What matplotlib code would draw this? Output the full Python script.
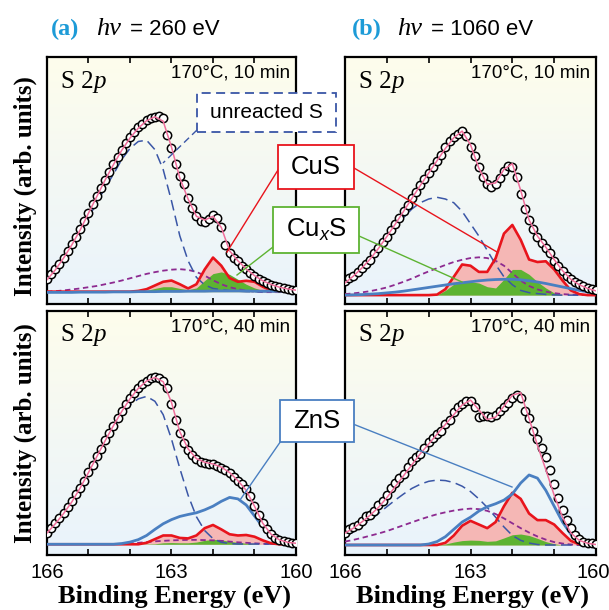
import numpy as np
import matplotlib
matplotlib.use('Agg')
import matplotlib.pyplot as plt
import matplotlib.transforms as mtransforms
from matplotlib.patches import Rectangle
from matplotlib.lines import Line2D

plt.rcParams['font.family'] = ['Liberation Sans', 'DejaVu Sans']
plt.rcParams['mathtext.fontset'] = 'custom'
plt.rcParams['mathtext.rm'] = 'Liberation Sans'
plt.rcParams['mathtext.it'] = 'Liberation Sans:italic'

W, H = 609, 610

# binding energy grids (eV): measured points every 0.1 eV, fit curves every 0.2 eV
energy_pts = np.linspace(166.0, 160.0, 61)
energy_fit = np.linspace(166.0, 160.0, 31)

# intensities in % of the panel height (arb. units)
# (a) 260 eV, 10 min
a10_data = [10.1, 12.0, 14.1, 16.3, 18.8, 21.4, 24.2, 27.1, 30.2, 33.5,
            37.0, 40.3, 43.7, 47.0, 50.4, 53.5, 56.5, 59.6, 62.5, 65.2,
            67.6, 69.8, 71.6, 73.0, 74.3, 75.3, 75.9, 76.0, 75.3, 68.5,
            63.0, 56.5, 52.0, 48.5, 43.0, 39.0, 35.5, 33.8, 33.4, 34.3,
            36.0, 35.0, 31.0, 24.0, 20.8, 18.8, 17.6, 15.3, 14.0, 12.4,
            11.2, 10.0, 9.3, 8.5, 7.8, 7.3, 6.8, 6.4, 6.1, 5.8, 5.5]
a10_fit = [9.8, 13.8, 18.6, 24.0, 30.0, 36.8, 43.5, 50.2, 56.4, 62.2,
           67.2, 71.2, 74.2, 75.8, 74.0, 63.5, 51.0, 42.5, 35.5, 34.0,
           35.5, 31.0, 21.5, 17.5, 14.2, 11.5, 9.4, 7.9, 6.8, 6.1, 5.6]
a10_unreacted = [9.8, 13.6, 18.2, 23.3, 29.0, 35.0, 41.0, 47.0, 52.5, 58.5,
                 63.0, 65.8, 66.3, 62.5, 54.4, 41.7, 27.6, 17.5, 10.8, 7.7,
                 6.3, 5.8, 5.4, 5.2, 5.0, 5.0, 5.0, 5.0, 5.0, 5.0, 5.0]
a10_other = [5.0, 5.2, 5.5, 5.9, 6.3, 6.8, 7.3, 8.0, 8.7, 9.5,
             10.4, 11.3, 12.2, 12.9, 13.5, 13.9, 14.1, 13.8, 13.0, 11.5,
             9.6, 8.0, 6.8, 6.0, 5.4, 5.0, 4.8, 4.8, 4.8, 4.8, 4.8]
a10_cus = [5.0, 5.0, 5.0, 5.0, 5.0, 5.0, 5.0, 5.0, 5.0, 5.0,
           5.0, 5.3, 6.0, 7.5, 9.0, 9.5, 8.0, 6.3, 8.0, 14.0,
           18.8, 15.5, 10.5, 9.0, 9.4, 9.0, 7.0, 5.5, 5.0, 5.0, 5.0]
a10_cuxs = [5.0, 5.0, 5.0, 5.0, 5.0, 5.0, 5.0, 5.0, 5.0, 5.0,
            5.0, 5.0, 5.5, 6.3, 7.0, 7.0, 6.3, 5.8, 6.5, 9.5,
            12.3, 13.0, 12.0, 10.0, 8.0, 6.5, 5.5, 5.0, 5.0, 5.0, 5.0]
a10_zns = [4.7, 4.7, 4.7, 4.7, 4.8, 4.8, 4.8, 4.8, 4.9, 4.9,
           4.9, 5.0, 5.0, 5.0, 5.1, 5.1, 5.1, 5.2, 5.2, 5.2,
           5.3, 5.3, 5.3, 5.3, 5.3, 5.2, 5.2, 5.2, 5.1, 5.1, 5.0]

# (b) 1060 eV, 10 min
b10_data = [9.5, 10.5, 11.5, 13.0, 14.5, 16.0, 18.0, 20.5, 22.5, 25.0,
            27.3, 29.8, 32.3, 35.0, 37.5, 40.0, 42.8, 45.5, 48.0, 50.5,
            53.0, 55.5, 58.0, 60.5, 63.7, 66.0, 67.5, 69.0, 70.2, 68.0,
            63.7, 59.8, 55.5, 51.5, 48.5, 47.5, 48.5, 51.0, 54.0, 56.0,
            55.5, 51.6, 44.5, 38.5, 34.0, 30.5, 27.0, 24.5, 22.5, 20.5,
            17.5, 15.5, 13.5, 11.5, 10.0, 9.0, 8.0, 7.2, 6.5, 6.0, 5.5]
b10_fit = [8.5, 11.3, 14.5, 18.2, 22.5, 27.3, 32.3, 37.5, 42.8, 48.0,
           53.0, 58.0, 63.0, 67.3, 70.0, 64.5, 55.0, 48.5, 49.0, 54.5,
           56.8, 46.0, 34.0, 27.5, 23.0, 18.0, 13.5, 10.0, 7.8, 6.3, 5.3]
b10_unreacted = [8.4, 11.5, 15.2, 19.0, 23.5, 27.5, 31.5, 35.0, 38.5, 41.0,
                 42.5, 43.2, 42.5, 41.0, 37.5, 32.5, 27.5, 21.7, 16.0, 11.0,
                 7.8, 5.5, 4.6, 4.2, 3.9, 3.7, 3.6, 3.6, 3.6, 3.6, 3.6]
b10_other = [4.0, 4.3, 4.7, 5.2, 5.9, 6.7, 7.8, 9.0, 10.3, 11.8,
             13.2, 14.5, 15.8, 17.0, 17.9, 18.6, 18.9, 18.6, 17.5, 15.5,
             12.5, 9.5, 7.3, 5.9, 5.0, 4.4, 4.0, 3.8, 3.7, 3.6, 3.6]
b10_cus = [3.6, 3.6, 3.6, 3.6, 3.6, 3.6, 3.6, 3.6, 3.6, 3.6,
           3.6, 3.8, 6.0, 11.0, 16.0, 15.5, 13.0, 13.0, 18.5, 28.5,
           32.0, 26.0, 18.0, 17.0, 17.3, 14.0, 9.5, 5.5, 4.0, 3.6, 3.6]
b10_cuxs = [3.6, 3.6, 3.6, 3.6, 3.6, 3.6, 3.6, 3.6, 3.6, 3.6,
            3.6, 3.6, 5.5, 8.0, 9.0, 9.0, 8.5, 7.0, 6.5, 10.0,
            14.0, 14.0, 12.0, 9.0, 6.5, 4.5, 3.6, 3.6, 3.6, 3.6, 3.6]
b10_zns = [3.6, 3.7, 3.8, 4.0, 4.2, 4.5, 4.8, 5.2, 5.7, 6.2,
           6.7, 7.2, 7.7, 8.2, 8.6, 9.0, 9.4, 9.7, 9.9, 10.0,
           10.0, 9.8, 9.4, 8.9, 8.3, 7.6, 6.9, 6.2, 5.5, 4.9, 4.4]

# (a) 260 eV, 40 min
a40_data = [9.2, 11.0, 13.0, 15.0, 17.2, 19.5, 22.0, 24.8, 27.5, 30.5,
            34.0, 37.0, 40.5, 43.5, 47.0, 50.0, 53.0, 56.0, 59.0, 61.8,
            64.3, 66.5, 68.5, 70.2, 71.5, 72.5, 73.1, 72.6, 71.5, 68.3,
            62.0, 55.5, 50.0, 46.0, 43.0, 40.8, 39.3, 38.3, 37.8, 37.5,
            37.2, 36.5, 35.8, 35.0, 33.8, 32.0, 30.5, 29.0, 27.0, 24.0,
            20.0, 16.5, 13.0, 10.5, 8.5, 7.0, 6.2, 5.7, 5.3, 5.0, 4.9]
a40_fit = [9.0, 12.8, 17.0, 21.8, 27.5, 33.8, 40.3, 46.8, 53.0, 58.8,
           64.0, 68.3, 71.3, 72.8, 71.0, 62.5, 50.5, 43.5, 39.5, 38.0,
           37.3, 36.0, 33.8, 30.5, 26.5, 20.0, 13.0, 8.5, 6.2, 5.2, 4.8]
a40_unreacted = [9.0, 12.8, 17.0, 21.8, 27.3, 33.5, 40.0, 46.5, 52.5, 57.5,
                 61.5, 64.0, 65.0, 63.0, 57.5, 47.5, 35.5, 24.5, 15.7, 10.0,
                 6.7, 5.2, 4.7, 4.5, 4.5, 4.5, 4.5, 4.5, 4.5, 4.5, 4.5]
a40_other = [4.5, 4.5, 4.5, 4.5, 4.5, 4.5, 4.5, 4.5, 4.5, 4.5,
             4.8, 5.0, 5.3, 5.6, 5.8, 6.0, 6.1, 6.2, 6.2, 6.1,
             6.0, 5.8, 5.5, 5.2, 5.0, 4.8, 4.6, 4.5, 4.5, 4.5, 4.5]
a40_cus = [4.4, 4.4, 4.4, 4.4, 4.4, 4.4, 4.4, 4.4, 4.4, 4.4,
           4.4, 4.4, 5.0, 6.5, 8.0, 8.0, 7.0, 6.8, 8.0, 11.0,
           12.3, 10.5, 8.5, 8.0, 8.2, 7.5, 6.0, 4.8, 4.4, 4.4, 4.4]
a40_cuxs = [4.4, 4.4, 4.4, 4.4, 4.4, 4.4, 4.4, 4.4, 4.4, 4.4,
            4.4, 4.4, 4.5, 4.6, 5.0, 5.1, 5.0, 5.0, 5.3, 6.0,
            6.4, 6.2, 5.6, 5.2, 4.8, 4.5, 4.4, 4.4, 4.4, 4.4, 4.4]
a40_zns = [4.4, 4.4, 4.4, 4.4, 4.4, 4.4, 4.4, 4.4, 4.4, 4.7,
           5.3, 6.3, 8.0, 10.5, 12.8, 14.5, 15.8, 16.6, 17.3, 18.5,
           20.0, 22.0, 23.6, 23.0, 20.5, 16.0, 11.5, 7.5, 5.5, 4.6, 4.4]

# (b) 1060 eV, 40 min
b40_data = [9.0, 10.5, 11.5, 12.5, 14.0, 15.8, 16.5, 18.0, 20.5, 22.3,
            24.5, 27.5, 29.5, 31.5, 33.0, 36.0, 38.5, 40.0, 41.5, 44.0,
            46.5, 48.0, 49.5, 51.0, 53.5, 55.5, 58.5, 60.5, 62.0, 63.0,
            63.2, 60.5, 56.5, 56.8, 57.0, 56.5, 57.5, 59.0, 60.5, 62.5,
            64.5, 65.5, 64.5, 59.0, 56.0, 51.0, 47.5, 44.0, 40.0, 35.0,
            29.0, 23.5, 18.5, 14.5, 11.0, 8.0, 6.5, 5.5, 5.0, 4.8, 4.5]
b40_fit = [9.0, 11.0, 13.5, 16.3, 19.5, 23.5, 28.0, 32.5, 37.0, 41.5,
           45.5, 49.5, 53.5, 57.5, 61.5, 63.5, 59.5, 55.5, 56.5, 61.0,
           65.5, 66.5, 56.0, 45.0, 35.0, 24.5, 15.5, 9.0, 6.0, 4.8, 4.3]
b40_unreacted = [7.5, 9.5, 11.8, 14.3, 17.0, 19.8, 22.5, 25.0, 27.3, 29.0,
                 30.2, 30.7, 30.5, 29.7, 28.2, 26.0, 23.0, 19.5, 15.5, 11.5,
                 8.0, 6.0, 4.9, 4.3, 4.1, 4.1, 4.1, 4.1, 4.1, 4.1, 4.1]
b40_other = [5.5, 6.2, 7.0, 7.9, 8.8, 9.8, 11.0, 12.2, 13.4, 14.6,
             15.7, 16.7, 17.5, 18.2, 18.7, 19.0, 18.8, 18.1, 16.8, 15.0,
             13.0, 11.0, 9.2, 7.6, 6.3, 5.3, 4.7, 4.3, 4.1, 4.1, 4.1]
b40_cus = [4.1, 4.1, 4.1, 4.1, 4.1, 4.1, 4.1, 4.1, 4.1, 4.1,
           4.1, 4.1, 5.0, 8.0, 12.0, 14.0, 12.5, 11.0, 13.5, 20.0,
           25.5, 23.0, 17.0, 14.3, 14.3, 12.5, 9.0, 5.8, 4.4, 4.1, 4.1]
b40_cuxs = [4.1, 4.1, 4.1, 4.1, 4.1, 4.1, 4.1, 4.1, 4.1, 4.1,
            4.1, 4.1, 4.5, 5.3, 5.9, 6.1, 6.0, 5.6, 5.8, 7.0,
            8.3, 8.6, 8.0, 6.8, 5.5, 4.6, 4.1, 4.1, 4.1, 4.1, 4.1]
b40_zns = [4.1, 4.1, 4.1, 4.1, 4.1, 4.1, 4.1, 4.1, 4.1, 4.1,
           4.5, 5.5, 7.5, 10.5, 13.5, 15.5, 18.0, 19.8, 21.0, 22.5,
           25.0, 29.5, 32.8, 31.5, 26.5, 20.0, 13.5, 8.5, 5.8, 4.6, 4.1]

panel_conditions = ['170\u00b0C, 10 min', '170\u00b0C, 10 min', '170\u00b0C, 40 min', '170\u00b0C, 40 min']
column_labels = ['(a)', '(b)']
photon_energies = ['= 260 eV', '= 1060 eV']
tick_labels = {166: '166', 163: '163', 160: '160'}

C_DATA = 'black'
C_FIT = '#ef6e9b'
C_UNREACTED = '#3a56a6'
C_OTHER = '#8d2a90'
C_CUS = '#e8141c'
C_CUS_FILL = '#f5b7b5'
C_CUXS = '#5db332'
C_ZNS = '#4a7fc1'
C_LABEL = '#1d9bd7'


def fig_xy(x, y):
    # pixel position (from the top left) to figure fraction
    return x / W, 1 - y / H


def gradient_bg(ax):
    top = np.array([254, 253, 236]) / 255.0
    bottom = np.array([233, 243, 252]) / 255.0
    t = np.linspace(0, 1, 256)[:, None, None]
    img = top * (1 - t) + bottom * t
    ax.imshow(img, extent=[0, 1, 0, 1], transform=ax.transAxes, aspect='auto', zorder=0)


def draw_panel(ax, data, fit, unreacted, other, cus, cuxs, zns, condition, show_labels):
    gradient_bg(ax)
    cus = np.array(cus)
    cuxs = np.array(cuxs)
    ax.fill_between(energy_fit, cus, cus.min(), color=C_CUS_FILL, lw=0, zorder=2)
    ax.fill_between(energy_fit, cuxs, cuxs.min(), color=C_CUXS, lw=0, zorder=3)
    ax.plot(energy_fit, other, color=C_OTHER, ls=(0, (3, 2)), lw=1.3, zorder=4)
    ax.plot(energy_fit, unreacted, color=C_UNREACTED, ls=(0, (7, 3.5)), lw=1.1, zorder=4)
    ax.plot(energy_fit, cus, color=C_CUS, lw=1.9, zorder=5)
    ax.plot(energy_fit, zns, color=C_ZNS, lw=2.0, zorder=6)
    ax.plot(energy_pts, data, 'o', ms=6.0, mfc='white', mec=C_DATA, mew=1.1, zorder=8)
    ax.plot(energy_fit, fit, color=C_FIT, lw=1.1, zorder=9)

    ax.set_xlim(166, 160)
    ax.set_ylim(0, 100)
    ax.set_xticks(np.arange(160, 167))
    ax.set_xticklabels([tick_labels.get(t, '') for t in range(160, 167)])
    ax.set_yticks([])
    ax.tick_params(axis='x', direction='in', top=True, length=4, width=1.2,
                   labelsize=14.5, pad=6, labelbottom=show_labels)
    for s in ax.spines.values():
        s.set_linewidth(1.6)

    t1 = ax.text(0.055, 0.855, 'S 2', family='Liberation Serif', fontsize=18,
                 transform=ax.transAxes, va='bottom', zorder=10)
    ax.annotate('p', xy=(1, 0), xycoords=t1, family='Liberation Serif', style='italic',
                fontsize=18, va='bottom', ha='left', zorder=10)
    ax.text(0.975, 0.968, condition, fontsize=13.5, transform=ax.transAxes,
            ha='right', va='top', zorder=10)


def add_box(fig, x0, y0, x1, y1, text, color, size, ls='-'):
    fx, fy = fig_xy(x0, y1)
    rect = Rectangle((fx, fy), (x1 - x0) / W, (y1 - y0) / H, transform=fig.transFigure,
                     fc='white', ec=color, lw=1.3, ls=ls, zorder=20)
    fig.add_artist(rect)
    cx, cy = fig_xy((x0 + x1) / 2, (y0 + y1) / 2)
    fig.text(cx, cy, text, ha='center', va='center', fontsize=size, zorder=21)


def add_leader(fig, p0, p1, color, ls='-'):
    x0, y0 = fig_xy(*p0)
    x1, y1 = fig_xy(*p1)
    fig.add_artist(Line2D([x0, x1], [y0, y1], transform=fig.transFigure,
                          color=color, lw=1.0, ls=ls, zorder=19))


if __name__ == '__main__':
    fig = plt.figure(figsize=(W / 100, H / 100), dpi=100)

    ax_a10 = fig.add_axes([47 / W, 1 - 304 / H, 249 / W, 247 / H])
    ax_b10 = fig.add_axes([345 / W, 1 - 304 / H, 251 / W, 247 / H])
    ax_a40 = fig.add_axes([47 / W, 1 - 555 / H, 249 / W, 244 / H])
    ax_b40 = fig.add_axes([345 / W, 1 - 555 / H, 251 / W, 244 / H])

    draw_panel(ax_a10, a10_data, a10_fit, a10_unreacted, a10_other, a10_cus, a10_cuxs, a10_zns,
               panel_conditions[0], False)
    draw_panel(ax_b10, b10_data, b10_fit, b10_unreacted, b10_other, b10_cus, b10_cuxs, b10_zns,
               panel_conditions[1], False)
    draw_panel(ax_a40, a40_data, a40_fit, a40_unreacted, a40_other, a40_cus, a40_cuxs, a40_zns,
               panel_conditions[2], True)
    draw_panel(ax_b40, b40_data, b40_fit, b40_unreacted, b40_other, b40_cus, b40_cuxs, b40_zns,
               panel_conditions[3], True)

    # keep the last "160" inside the figure, as in the original
    shift = mtransforms.ScaledTranslation(-3 / 100, 0, fig.dpi_scale_trans)
    last = ax_b40.get_xticklabels()[0]
    last.set_transform(last.get_transform() + shift)

    # column titles
    for i, x in enumerate([51, 352]):
        fig.text(*fig_xy(x, 35), column_labels[i], family='Liberation Serif', weight='bold',
                 color=C_LABEL, fontsize=17.5, va='baseline')
        fig.text(*fig_xy(x + 45, 35), 'h\u03bd', family='Liberation Serif', style='italic',
                 fontsize=19, va='baseline')
        fig.text(*fig_xy(x + 79, 35), photon_energies[i], fontsize=16, va='baseline')

    # axis labels
    for cy in [186, 433]:
        fig.text(*fig_xy(25, cy), 'Intensity (arb. units)', family='Liberation Serif',
                 weight='bold', fontsize=18, rotation=90, ha='center', va='center')
    for cx in [174, 472]:
        fig.text(*fig_xy(cx, 596), 'Binding Energy (eV)', family='Liberation Serif',
                 weight='bold', fontsize=19, ha='center', va='center')

    # callouts
    add_leader(fig, (197, 130), (163, 163), C_UNREACTED, ls=(0, (5, 3)))
    add_box(fig, 197, 93, 336, 132, 'unreacted S', C_UNREACTED, 15, ls=(0, (5, 3)))

    add_leader(fig, (278, 170), (227, 252), C_CUS)
    add_leader(fig, (354, 168), (497, 252), C_CUS)
    add_box(fig, 278, 145, 354, 189, 'CuS', C_CUS, 18.5)

    add_leader(fig, (273, 247), (237, 275), C_CUXS)
    add_leader(fig, (359, 236), (462, 282), C_CUXS)
    add_box(fig, 273, 207, 359, 253, 'Cu$_x$S', C_CUXS, 18.5)

    add_leader(fig, (283, 438), (240, 500), C_ZNS)
    add_leader(fig, (353, 424), (512, 487), C_ZNS)
    add_box(fig, 280, 400, 354, 442, 'ZnS', C_ZNS, 18.5)

    fig.savefig('out.png', dpi=100)
